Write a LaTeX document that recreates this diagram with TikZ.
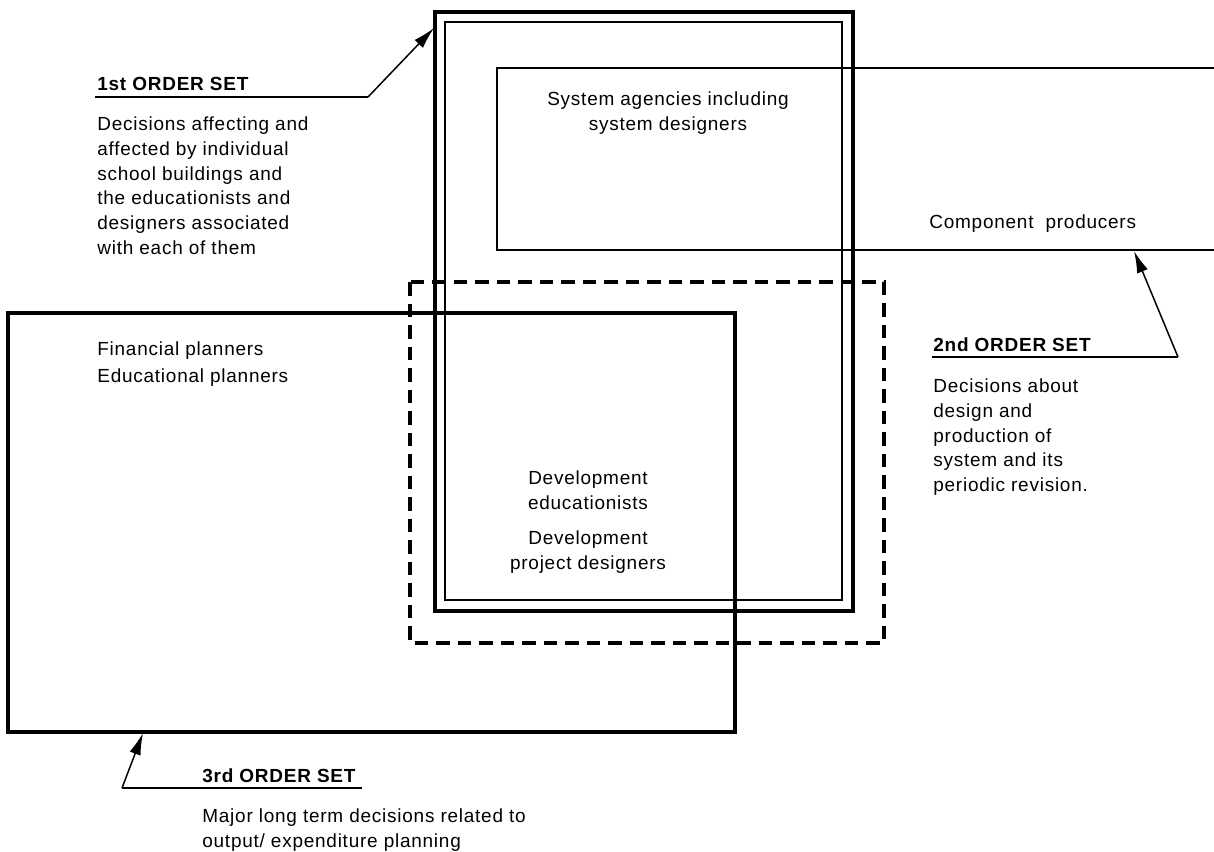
\documentclass[tikz,border=0pt]{standalone}
\usepackage{fontspec}
\setmainfont{Liberation Sans}[LetterSpace=4]
\usetikzlibrary{arrows.meta}

\begin{document}
\begin{tikzpicture}[x=0.2mm, y=-0.2mm,
    heavybox/.style={line width=1.9pt},
    thinbox/.style={line width=0.9pt},
    midbox/.style={line width=1.3pt},
    dashbox/.style={line width=2.1pt, dash pattern=on 2.7mm off 1.6mm},
    leader/.style={line width=0.85pt},
    pointer/.style={line width=0.85pt, -{Latex[length=4.4mm, width=2.3mm]}},
    label/.style={inner sep=0pt, align=left, font=\fontsize{10.8}{14.2}\selectfont},
    heading/.style={label, anchor=base west, font=\bfseries\fontsize{10.8}{14.2}\selectfont}]
  \useasboundingbox (0,0) rectangle (1214,851);

  \draw[heavybox] (8,313) rectangle (735,732);
  \draw[heavybox] (435,12) rectangle (853,611);
  \draw[thinbox] (445,22) rectangle (842,600);
  \draw[midbox] (1214,68) -- (497,68) -- (497,250) -- (1214,250);
  \draw[dashbox] (410,282) rectangle (884,643);

  \node[heading] (first) at (97,90) {1st ORDER SET};
  \node[label, anchor=north west] (firsttext) at (97,116)
    {Decisions affecting and\\affected by individual\\school buildings and\\the educationists and\\designers associated\\with each of them};
  \node[label, anchor=north, align=center] (agencies) at (668,91) {System agencies including\\system designers};
  \node[label, anchor=north west] (producers) at (929,214) {Component\ \ producers};
  \node[label, anchor=north west, font=\fontsize{10.8}{15.4}\selectfont] (planners) at (97,341) {Financial planners\\Educational planners};
  \node[heading] (second) at (933,351) {2nd ORDER SET};
  \node[label, anchor=north west] (secondtext) at (933,378)
    {Decisions about\\design and\\production of\\system and its\\periodic revision.};
  \node[label, anchor=north, align=center] (devedu) at (588,470) {Development\\educationists};
  \node[label, anchor=north, align=center] (devproj) at (588,530) {Development\\project designers};
  \node[heading] (third) at (202,782) {3rd ORDER SET};
  \node[label, anchor=north west] (thirdtext) at (202,808)
    {Major long term decisions related to\\output/ expenditure planning};

  \coordinate (firstfoot) at (95,97);
  \coordinate (firstbend) at (368,97);
  \coordinate (firsttip) at (434,28);
  \coordinate (secondfoot) at (932,357);
  \coordinate (secondbend) at (1178,357);
  \coordinate (secondtip) at (1134,251);
  \coordinate (thirdfoot) at (362,788);
  \coordinate (thirdbend) at (122,788);
  \coordinate (thirdtip) at (143,733);

  \draw[leader] (firstfoot) -- (firstbend);
  \draw[pointer] (firstbend) -- (firsttip);
  \draw[leader] (secondfoot) -- (secondbend);
  \draw[pointer] (secondbend) -- (secondtip);
  \draw[leader] (thirdfoot) -- (thirdbend);
  \draw[pointer] (thirdbend) -- (thirdtip);
\end{tikzpicture}
\end{document}
